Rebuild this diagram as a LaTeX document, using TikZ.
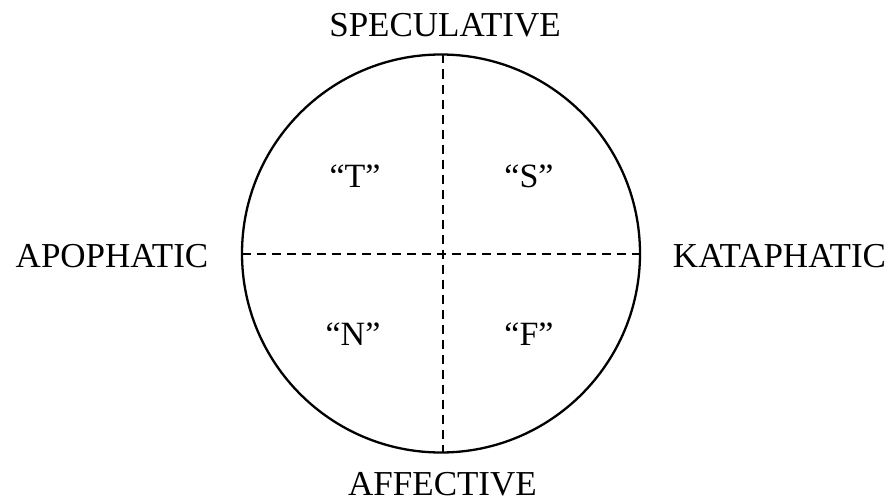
\documentclass[tikz,border=0pt]{standalone}
\usepackage{fontspec}
\setmainfont{Liberation Serif}
\begin{document}
\begin{tikzpicture}[x=1pt,y=-1pt,
  axislabel/.style={anchor=base,inner sep=0pt,font=\fontsize{35}{38}\selectfont},
  quadlabel/.style={anchor=base,inner sep=0pt,font=\fontsize{34}{36}\selectfont},
  divider/.style={line width=2pt,dash pattern=on 9pt off 6pt},
  ring/.style={line width=2.3pt}]
\useasboundingbox (0,0) rectangle (891,503);
\coordinate (c) at (441,253.5);
\draw[ring] (c) circle[radius=199];
\coordinate (top) at (443,54.5);
\coordinate (bot) at (443,452.5);
\coordinate (lft) at (242,253.5);
\coordinate (rgt) at (640,253.5);
\draw[divider] (top) -- (bot);
\draw[divider] (lft) -- (rgt);
\node[axislabel] (spec) at (445,37) {SPECULATIVE};
\node[axislabel] (aff) at (442.5,495) {AFFECTIVE};
\node[axislabel] (apo) at (112,267) {APOPHATIC};
\node[axislabel] (kata) at (779.5,267) {KATAPHATIC};
\node[quadlabel] (t) at (355,187) {“T”};
\node[quadlabel] (s) at (529,187) {“S”};
\node[quadlabel] (n) at (353,345) {“N”};
\node[quadlabel] (f) at (529,345) {“F”};
\end{tikzpicture}
\end{document}
